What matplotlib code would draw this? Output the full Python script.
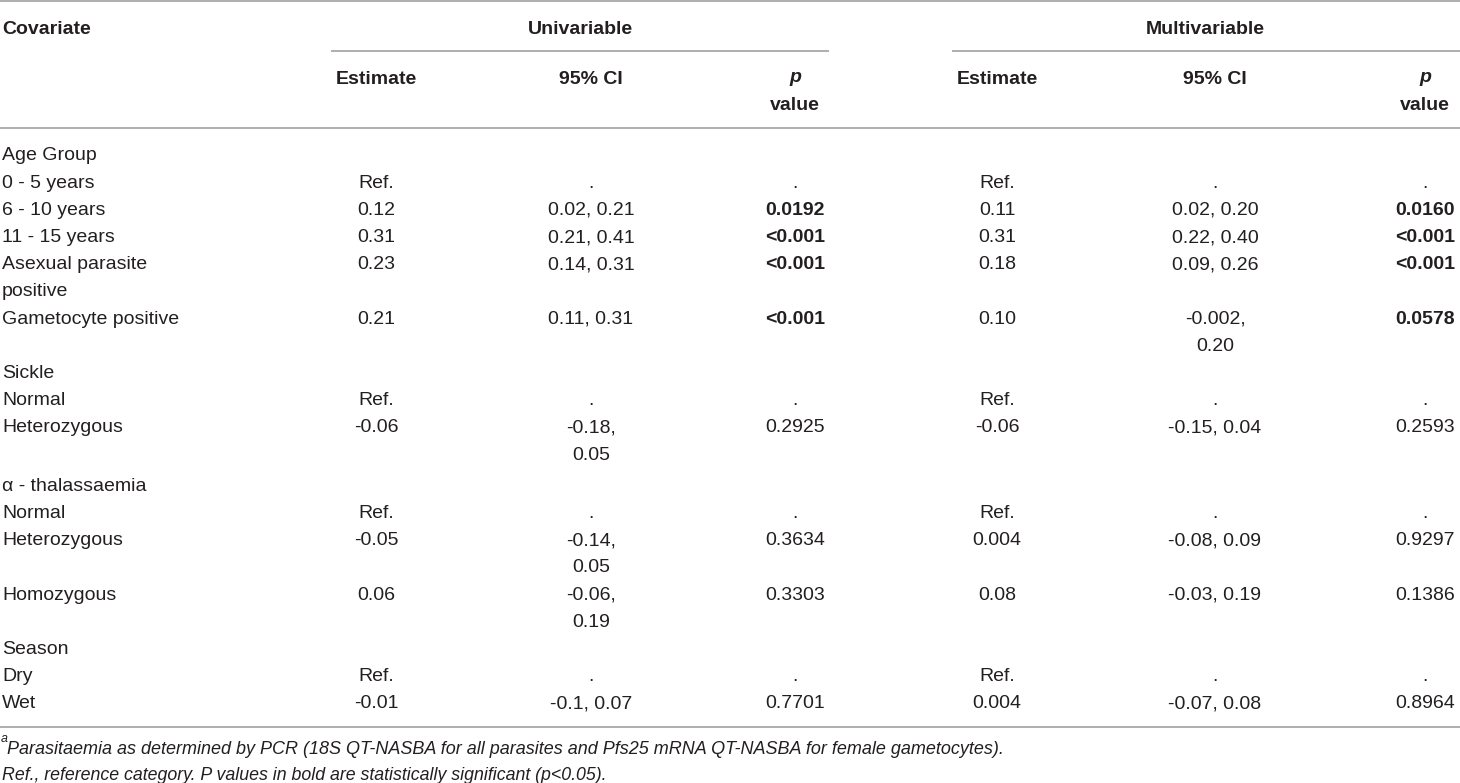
import matplotlib
matplotlib.use("Agg")
import matplotlib.pyplot as plt

# ---------------- data ----------------
covariates = ["Age Group", "0 - 5 years", "6 - 10 years", "11 - 15 years",
              "Asexual parasite\npositive", "Gametocyte positive",
              "Sickle", "Normal", "Heterozygous",
              "\u03b1 - thalassaemia", "Normal", "Heterozygous", "Homozygous",
              "Season", "Dry", "Wet"]
uni_est = ["", "Ref.", "0.12", "0.31", "0.23", "0.21",
           "", "Ref.", "-0.06",
           "", "Ref.", "-0.05", "0.06",
           "", "Ref.", "-0.01"]
uni_ci = ["", ".", "0.02, 0.21", "0.21, 0.41", "0.14, 0.31", "0.11, 0.31",
          "", ".", "-0.18,\n0.05",
          "", ".", "-0.14,\n0.05", "-0.06,\n0.19",
          "", ".", "-0.1, 0.07"]
uni_p = ["", ".", "0.0192", "<0.001", "<0.001", "<0.001",
         "", ".", "0.2925",
         "", ".", "0.3634", "0.3303",
         "", ".", "0.7701"]
multi_est = ["", "Ref.", "0.11", "0.31", "0.18", "0.10",
             "", "Ref.", "-0.06",
             "", "Ref.", "0.004", "0.08",
             "", "Ref.", "0.004"]
multi_ci = ["", ".", "0.02, 0.20", "0.22, 0.40", "0.09, 0.26", "-0.002,\n0.20",
            "", ".", "-0.15, 0.04",
            "", ".", "-0.08, 0.09", "-0.03, 0.19",
            "", ".", "-0.07, 0.08"]
multi_p = ["", ".", "0.0160", "<0.001", "<0.001", "0.0578",
           "", ".", "0.2593",
           "", ".", "0.9297", "0.1386",
           "", ".", "0.8964"]
uni_bold = [False, False, True, True, True, True, False, False, False,
            False, False, False, False, False, False, False]
multi_bold = [False, False, True, True, True, True, False, False, False,
              False, False, False, False, False, False, False]
group_headers = ["Univariable", "Multivariable"]
sub_headers = ["Estimate", "95% CI"]
footnote1 = "Parasitaemia as determined by PCR (18S QT-NASBA for all parasites and Pfs25 mRNA QT-NASBA for female gametocytes)."
footnote2 = "Ref., reference category. P values in bold are statistically significant (p<0.05)."

# ---------------- layout ----------------
W, H = 1460, 783
FONT = ["Liberation Sans", "DejaVu Sans"]
FS = 14.0
TXT = "#231f20"
RULE = "#a8a8a8"

fig = plt.figure(figsize=(W / 100, H / 100), dpi=100)
ax = fig.add_axes([0, 0, 1, 1])
ax.set_xlim(0, W)
ax.set_ylim(H, 0)
ax.axis("off")


def put(x, yc, s, ha="center", weight="normal", style="normal", size=FS, color=TXT):
    ax.text(x, yc + 6.5, s, ha=ha, va="baseline", fontsize=size, family=FONT,
            fontweight=weight, fontstyle=style, color=color)


def rule(y, x0, x1):
    ax.plot([x0, x1], [y, y], color=RULE, lw=1.3, solid_capstyle="butt")


# rules
rule(1, 0, W)
rule(51, 331, 829)
rule(51, 952, W)
rule(128, 0, W)
rule(727, 0, W)

# column centres
X_COV = 2
X_UE, X_UC, X_UP = 376, 591, 795
X_ME, X_MC, X_MP = 997, 1215, 1425

# header
put(X_COV, 27, "Covariate", ha="left", weight="bold")
put(580, 27, group_headers[0], weight="bold")
put(1205, 27, group_headers[1], weight="bold")
for xe, xc, xp in [(X_UE, X_UC, X_UP), (X_ME, X_MC, X_MP)]:
    put(xe, 77, sub_headers[0], weight="bold")
    put(xc, 77, sub_headers[1], weight="bold")
    put(xp, 76, "p", weight="bold", style="italic")
    put(xp, 103, "value", weight="bold")

# body
LINE = 27.2
Y0 = 154
line_idx = 0
for i, cov in enumerate(covariates):
    cells = [(X_COV, cov, "left", False),
             (X_UE, uni_est[i], "center", False),
             (X_UC, uni_ci[i], "center", False),
             (X_UP, uni_p[i], "center", uni_bold[i]),
             (X_ME, multi_est[i], "center", False),
             (X_MC, multi_ci[i], "center", False),
             (X_MP, multi_p[i], "center", multi_bold[i])]
    nlines = max(len(c[1].split("\n")) for c in cells)
    extra = 4 if i >= 9 else 0
    for x, s, ha, b in cells:
        for k, part in enumerate(s.split("\n")):
            if part:
                put(x, Y0 + LINE * (line_idx + k) + extra, part, ha=ha,
                    weight="bold" if b else "normal")
    line_idx += nlines

# footnotes
ax.text(1, 742, "a", ha="left", va="baseline", fontsize=9, family=FONT,
        fontstyle="italic", color=TXT)
put(7, 748, footnote1, ha="left", style="italic", size=13.0)
put(2, 774, footnote2, ha="left", style="italic", size=12.8)

fig.savefig("out.png", dpi=100)
